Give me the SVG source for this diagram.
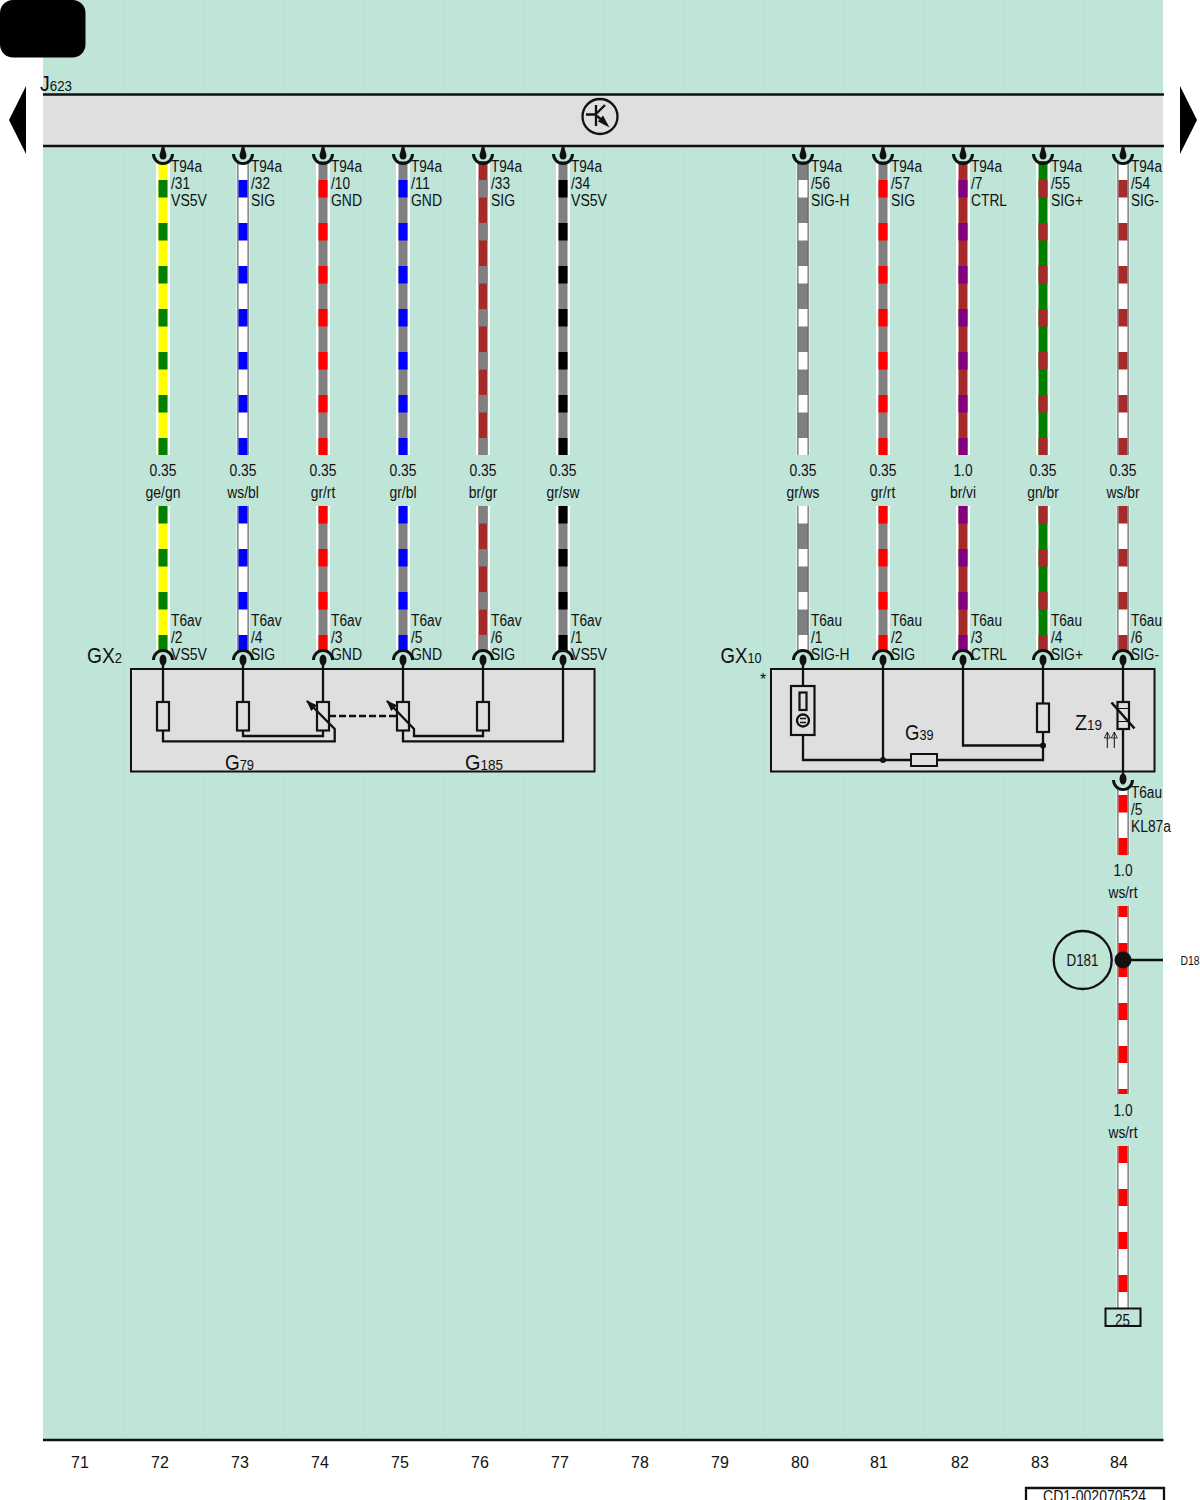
<svg xmlns="http://www.w3.org/2000/svg" width="1200" height="1500" viewBox="0 0 1200 1500">
<style>
text{font-family:"Liberation Sans",Arial,sans-serif;font-size:16px;fill:#111}
.m{text-anchor:middle}
.b{font-size:22px}
.s{font-size:15px}
.t{font-size:12px}
.ln{fill:none;stroke:#111;stroke-width:2.300}
.bx{fill:#dfdfdf;stroke:#111;stroke-width:2}
.rs{fill:none;stroke:#111;stroke-width:2.200}
.thin{fill:none;stroke:#111;stroke-width:1}
.grid{stroke:#b9dfd3;stroke-width:1}
use,.w{fill:none}
.halo{stroke:#fff;stroke-width:14}
.edge{stroke:#666;stroke-width:11.500}
.wh{stroke:#fff;stroke-width:9}
.ye{stroke:#ff0;stroke-width:9}
.gy{stroke:#808080;stroke-width:9}
.br{stroke:#a52a2a;stroke-width:9}
.gn{stroke:#008000;stroke-width:9}
.st{stroke-dasharray:17.5 25.5}
.cgn{stroke:#008000;stroke-width:9}
.cbl{stroke:#00f;stroke-width:9}
.crt{stroke:#f00;stroke-width:9}
.cgy{stroke:#808080;stroke-width:9}
.csw{stroke:#000;stroke-width:9}
.cwh{stroke:#fff;stroke-width:9}
.cvi{stroke:#800080;stroke-width:9}
.cbr{stroke:#a52a2a;stroke-width:9}
.k{fill:#111}
.cup{fill:none;stroke:#111;stroke-width:3}
</style>
<defs>
<path id="base" d="M0 161V455M0 506V652"/>
<path id="stripe" d="M0 180V455M0 506V652"/>
<g id="ct">
<path class="cup" d="M-9.500 154A9.500 9.500 0 0 0 9.500 154"/>
<path class="k" d="M-1 146H1L3.500 155A3.500 4.500 0 0 1 -3.500 155Z"/>
</g>
<g id="cb">
<path class="cup" d="M-9.500 660A9.500 9.500 0 0 1 9.500 660"/>
<ellipse class="k" cx="0" cy="660" rx="3.500" ry="5.500"/>
</g>
<marker id="ah" markerWidth="12" markerHeight="8" refX="10" refY="4" orient="auto" markerUnits="userSpaceOnUse"><path d="M0 0L11 4L0 8Z" fill="#111"/></marker>
<marker id="ua" markerWidth="8" markerHeight="7" refX="7" refY="3" orient="auto" markerUnits="userSpaceOnUse"><path d="M1 0L7 3L1 6Z" fill="none" stroke="#111" stroke-width=".8"/></marker>
</defs>

<rect x="43" y="0" width="1120" height="1440" fill="#bfe4d8"/>
<g id="grid">
<path class="grid" d="M123 0V1440M203 0V1440M283 0V1440M363 0V1440M443 0V1440M523 0V1440M603 0V1440M683 0V1440M763 0V1440M843 0V1440M923 0V1440M1003 0V1440M1083 0V1440"/>
</g>
<rect x="0" y="0" width="85.500" height="57.500" rx="13" fill="#000"/>
<path d="M26 86L9 120L26 154Z" fill="#000"/>
<path d="M1180 86L1197 120L1180 154Z" fill="#000"/>

<g id="J623">
<rect x="43" y="95" width="1120" height="51" fill="#dfdfdf"/>
<path class="ln" d="M43 94.500H1164M43 146H1164"/>
<text x="40" y="91" textLength="32" lengthAdjust="spacingAndGlyphs"><tspan class="b">J</tspan><tspan class="s">623</tspan></text>
<circle class="ln" cx="600" cy="116.500" r="17.500"/>
<path class="ln" d="M586 114.500H596M596 105V126M596 114L605 105M597 116L603 121"/>
<path class="k" d="M609.500 127.500L598 121.500L603 115.500Z"/>
</g>

<g id="connectors">
<g id="wire72"><use href="#base" x="163" class="halo"/><use href="#base" x="163" class="ye"/><use href="#stripe" x="163" class="cgn st"/></g>
<g id="wire73"><use href="#base" x="243" class="halo" style="stroke-width:13"/><use href="#base" x="243" class="edge"/><use href="#base" x="243" class="wh"/><use href="#stripe" x="243" class="cbl st"/></g>
<g id="wire74"><use href="#base" x="323" class="halo"/><use href="#base" x="323" class="gy"/><use href="#stripe" x="323" class="crt st"/></g>
<g id="wire75"><use href="#base" x="403" class="halo"/><use href="#base" x="403" class="gy"/><use href="#stripe" x="403" class="cbl st"/></g>
<g id="wire76"><use href="#base" x="483" class="halo"/><use href="#base" x="483" class="br"/><use href="#stripe" x="483" class="cgy st"/></g>
<g id="wire77"><use href="#base" x="563" class="halo"/><use href="#base" x="563" class="gy"/><use href="#stripe" x="563" class="csw st"/></g>
<g id="wire80"><use href="#base" x="803" class="halo" style="stroke-width:13"/><use href="#base" x="803" class="edge"/><use href="#base" x="803" class="gy"/><use href="#stripe" x="803" class="cwh st"/></g>
<g id="wire81"><use href="#base" x="883" class="halo"/><use href="#base" x="883" class="gy"/><use href="#stripe" x="883" class="crt st"/></g>
<g id="wire82"><use href="#base" x="963" class="halo"/><use href="#base" x="963" class="br"/><use href="#stripe" x="963" class="cvi st"/></g>
<g id="wire83"><use href="#base" x="1043" class="halo"/><use href="#base" x="1043" class="gn"/><use href="#stripe" x="1043" class="cbr st"/></g>
<g id="wire84"><use href="#base" x="1123" class="halo" style="stroke-width:13"/><use href="#base" x="1123" class="edge"/><use href="#base" x="1123" class="wh"/><use href="#stripe" x="1123" class="cbr st"/></g>
<g id="wire84b">
<path class="w halo" style="stroke-width:13" d="M1123 787V855M1123 906V1094M1123 1146V1308"/>
<path class="w edge" d="M1123 787V855M1123 906V1094M1123 1146V1308"/>
<path class="w wh" d="M1123 787V855M1123 906V1094M1123 1146V1308"/>
<path class="w crt" d="M1123 795V812.500M1123 838V855M1123 906V917M1123 943V977M1123 1003V1020M1123 1046V1063M1123 1089V1094M1123 1146V1163M1123 1189V1206M1123 1232V1249M1123 1275V1292"/>
</g>
<path class="ln" d="M1123 960H1163"/>
<g id="top-contacts">
<use href="#ct" x="163"/><use href="#ct" x="243"/><use href="#ct" x="323"/><use href="#ct" x="403"/><use href="#ct" x="483"/><use href="#ct" x="563"/><use href="#ct" x="803"/><use href="#ct" x="883"/><use href="#ct" x="963"/><use href="#ct" x="1043"/><use href="#ct" x="1123"/>
</g>
</g>

<g id="GX2">
<rect class="bx" x="131" y="669" width="463.500" height="102.500"/>
<text x="87" y="663" textLength="35" lengthAdjust="spacingAndGlyphs"><tspan class="b">GX</tspan><tspan class="s">2</tspan></text>
<text x="225" y="770" textLength="29" lengthAdjust="spacingAndGlyphs"><tspan class="b">G</tspan><tspan class="s">79</tspan></text>
<text x="465" y="770" textLength="38" lengthAdjust="spacingAndGlyphs"><tspan class="b">G</tspan><tspan class="s">185</tspan></text>
<rect class="rs" x="157" y="702" width="12" height="28.500"/>
<rect class="rs" x="237" y="702" width="12" height="28.500"/>
<rect class="rs" x="317" y="702" width="12" height="28.500"/>
<rect class="rs" x="397" y="702" width="12" height="28.500"/>
<rect class="rs" x="477" y="702" width="12" height="28.500"/>
<path class="ln" d="M163 660V702M243 660V702M323 660V702M403 660V702M483 660V702M563 660V741.300H403V730.500M163 730.500V741.300H334.700V729L311 705"/>
<path class="ln" d="M243 730.500V736H323V730.500M483 730.500V736H414V729L391 705"/>
<path class="ln" d="M311 705L307 701" marker-end="url(#ah)"/>
<path class="ln" d="M391 705L387 701" marker-end="url(#ah)"/>
<path class="ln" stroke-dasharray="7 3" d="M329 716H397"/>
<use href="#cb" x="163"/><use href="#cb" x="243"/><use href="#cb" x="323"/><use href="#cb" x="403"/><use href="#cb" x="483"/><use href="#cb" x="563"/>
</g>

<g id="GX10">
<rect class="bx" x="771" y="669" width="383.500" height="102.500"/>
<text x="720.500" y="663" textLength="41" lengthAdjust="spacingAndGlyphs"><tspan class="b">GX</tspan><tspan class="s">10</tspan></text>
<text x="760" y="685">*</text>
<text x="905" y="739.500" textLength="28.500" lengthAdjust="spacingAndGlyphs"><tspan class="b">G</tspan><tspan class="s">39</tspan></text>
<text x="1075" y="730" textLength="27" lengthAdjust="spacingAndGlyphs"><tspan class="b">Z</tspan><tspan class="s">19</tspan></text>
<path class="ln" d="M803 660V686M803 735V760H1043V732M883 660V760M963 660V745.500H1043M1043 660V703"/>
<rect class="rs" x="791" y="686" width="23.500" height="49"/>
<rect class="rs" x="799.500" y="692.500" width="7" height="17.500"/>
<circle class="ln" cx="803" cy="720.500" r="6"/>
<path class="ln" d="M800 718.500H806M800 722.500H806" style="stroke-width:1.600"/>
<rect class="bx" x="911" y="754" width="26" height="12"/>
<circle class="k" cx="883" cy="760" r="3"/>
<circle class="k" cx="1043" cy="745.500" r="3"/>
<rect class="rs" x="1037" y="703.500" width="12" height="28.500"/>
<path class="ln" d="M1123 660V702M1123 729V776"/>
<rect class="rs" x="1117.500" y="702" width="11.500" height="27"/>
<path class="thin" d="M1117.500 708.500H1129M1117.500 721.500H1129"/>
<path class="ln" style="stroke-width:2.600" d="M1111.500 702.500L1134.500 728.500"/>
<path class="thin" d="M1107.300 748V732" marker-end="url(#ua)"/>
<path class="thin" d="M1114.300 748V732" marker-end="url(#ua)"/>
<use href="#cb" x="803"/><use href="#cb" x="883"/><use href="#cb" x="963"/><use href="#cb" x="1043"/><use href="#cb" x="1123"/>
<path class="cup" d="M1113.500 780A9.500 9.500 0 0 0 1132.500 780"/>
<ellipse class="k" cx="1123" cy="779" rx="3.500" ry="5.500"/>
</g>

<g id="D181">
<circle class="ln" cx="1082.700" cy="960" r="29"/>
<text x="1066.500" y="966" textLength="32" lengthAdjust="spacingAndGlyphs">D181</text>
<circle class="k" cx="1123" cy="960" r="8.500"/>
<text class="t" x="1180.500" y="965" textLength="19" lengthAdjust="spacingAndGlyphs">D18</text>
</g>

<g id="terminal25">
<rect class="bx" style="fill:#bfe4d8" x="1105.500" y="1308.500" width="35" height="17.500"/>
<text class="m" x="1122.500" y="1325.500" textLength="15" lengthAdjust="spacingAndGlyphs">25</text>
</g>

<g id="pin-labels">
<text x="171" y="172" textLength="31" lengthAdjust="spacingAndGlyphs">T94a</text><text x="171" y="189" textLength="19" lengthAdjust="spacingAndGlyphs">/31</text><text x="171" y="206" textLength="36" lengthAdjust="spacingAndGlyphs">VS5V</text>
<text x="251" y="172" textLength="31" lengthAdjust="spacingAndGlyphs">T94a</text><text x="251" y="189" textLength="19" lengthAdjust="spacingAndGlyphs">/32</text><text x="251" y="206" textLength="24" lengthAdjust="spacingAndGlyphs">SIG</text>
<text x="331" y="172" textLength="31" lengthAdjust="spacingAndGlyphs">T94a</text><text x="331" y="189" textLength="19" lengthAdjust="spacingAndGlyphs">/10</text><text x="331" y="206" textLength="31" lengthAdjust="spacingAndGlyphs">GND</text>
<text x="411" y="172" textLength="31" lengthAdjust="spacingAndGlyphs">T94a</text><text x="411" y="189" textLength="19" lengthAdjust="spacingAndGlyphs">/11</text><text x="411" y="206" textLength="31" lengthAdjust="spacingAndGlyphs">GND</text>
<text x="491" y="172" textLength="31" lengthAdjust="spacingAndGlyphs">T94a</text><text x="491" y="189" textLength="19" lengthAdjust="spacingAndGlyphs">/33</text><text x="491" y="206" textLength="24" lengthAdjust="spacingAndGlyphs">SIG</text>
<text x="571" y="172" textLength="31" lengthAdjust="spacingAndGlyphs">T94a</text><text x="571" y="189" textLength="19" lengthAdjust="spacingAndGlyphs">/34</text><text x="571" y="206" textLength="36" lengthAdjust="spacingAndGlyphs">VS5V</text>
<text x="811" y="172" textLength="31" lengthAdjust="spacingAndGlyphs">T94a</text><text x="811" y="189" textLength="19" lengthAdjust="spacingAndGlyphs">/56</text><text x="811" y="206" textLength="38.500" lengthAdjust="spacingAndGlyphs">SIG-H</text>
<text x="891" y="172" textLength="31" lengthAdjust="spacingAndGlyphs">T94a</text><text x="891" y="189" textLength="19" lengthAdjust="spacingAndGlyphs">/57</text><text x="891" y="206" textLength="24" lengthAdjust="spacingAndGlyphs">SIG</text>
<text x="971" y="172" textLength="31" lengthAdjust="spacingAndGlyphs">T94a</text><text x="971" y="189" textLength="11.500" lengthAdjust="spacingAndGlyphs">/7</text><text x="971" y="206" textLength="36" lengthAdjust="spacingAndGlyphs">CTRL</text>
<text x="1051" y="172" textLength="31" lengthAdjust="spacingAndGlyphs">T94a</text><text x="1051" y="189" textLength="19" lengthAdjust="spacingAndGlyphs">/55</text><text x="1051" y="206" textLength="32" lengthAdjust="spacingAndGlyphs">SIG+</text>
<text x="1131" y="172" textLength="31" lengthAdjust="spacingAndGlyphs">T94a</text><text x="1131" y="189" textLength="19" lengthAdjust="spacingAndGlyphs">/54</text><text x="1131" y="206" textLength="28" lengthAdjust="spacingAndGlyphs">SIG-</text>

<text x="171" y="626" textLength="30.500" lengthAdjust="spacingAndGlyphs">T6av</text><text x="171" y="643" textLength="11.500" lengthAdjust="spacingAndGlyphs">/2</text><text x="171" y="660" textLength="36" lengthAdjust="spacingAndGlyphs">VS5V</text>
<text x="251" y="626" textLength="30.500" lengthAdjust="spacingAndGlyphs">T6av</text><text x="251" y="643" textLength="11.500" lengthAdjust="spacingAndGlyphs">/4</text><text x="251" y="660" textLength="24" lengthAdjust="spacingAndGlyphs">SIG</text>
<text x="331" y="626" textLength="30.500" lengthAdjust="spacingAndGlyphs">T6av</text><text x="331" y="643" textLength="11.500" lengthAdjust="spacingAndGlyphs">/3</text><text x="331" y="660" textLength="31" lengthAdjust="spacingAndGlyphs">GND</text>
<text x="411" y="626" textLength="30.500" lengthAdjust="spacingAndGlyphs">T6av</text><text x="411" y="643" textLength="11.500" lengthAdjust="spacingAndGlyphs">/5</text><text x="411" y="660" textLength="31" lengthAdjust="spacingAndGlyphs">GND</text>
<text x="491" y="626" textLength="30.500" lengthAdjust="spacingAndGlyphs">T6av</text><text x="491" y="643" textLength="11.500" lengthAdjust="spacingAndGlyphs">/6</text><text x="491" y="660" textLength="24" lengthAdjust="spacingAndGlyphs">SIG</text>
<text x="571" y="626" textLength="30.500" lengthAdjust="spacingAndGlyphs">T6av</text><text x="571" y="643" textLength="11.500" lengthAdjust="spacingAndGlyphs">/1</text><text x="571" y="660" textLength="36" lengthAdjust="spacingAndGlyphs">VS5V</text>
<text x="811" y="626" textLength="31" lengthAdjust="spacingAndGlyphs">T6au</text><text x="811" y="643" textLength="11.500" lengthAdjust="spacingAndGlyphs">/1</text><text x="811" y="660" textLength="38.500" lengthAdjust="spacingAndGlyphs">SIG-H</text>
<text x="891" y="626" textLength="31" lengthAdjust="spacingAndGlyphs">T6au</text><text x="891" y="643" textLength="11.500" lengthAdjust="spacingAndGlyphs">/2</text><text x="891" y="660" textLength="24" lengthAdjust="spacingAndGlyphs">SIG</text>
<text x="971" y="626" textLength="31" lengthAdjust="spacingAndGlyphs">T6au</text><text x="971" y="643" textLength="11.500" lengthAdjust="spacingAndGlyphs">/3</text><text x="971" y="660" textLength="36" lengthAdjust="spacingAndGlyphs">CTRL</text>
<text x="1051" y="626" textLength="31" lengthAdjust="spacingAndGlyphs">T6au</text><text x="1051" y="643" textLength="11.500" lengthAdjust="spacingAndGlyphs">/4</text><text x="1051" y="660" textLength="32" lengthAdjust="spacingAndGlyphs">SIG+</text>
<text x="1131" y="626" textLength="31" lengthAdjust="spacingAndGlyphs">T6au</text><text x="1131" y="643" textLength="11.500" lengthAdjust="spacingAndGlyphs">/6</text><text x="1131" y="660" textLength="28" lengthAdjust="spacingAndGlyphs">SIG-</text>
<text x="1131" y="798" textLength="31" lengthAdjust="spacingAndGlyphs">T6au</text><text x="1131" y="815" textLength="11.500" lengthAdjust="spacingAndGlyphs">/5</text><text x="1131" y="832" textLength="40" lengthAdjust="spacingAndGlyphs">KL87a</text>
</g>

<g id="wire-labels">
<text class="m" x="163" y="476" textLength="27" lengthAdjust="spacingAndGlyphs">0.35</text><text class="m" x="163" y="498" textLength="35" lengthAdjust="spacingAndGlyphs">ge/gn</text>
<text class="m" x="243" y="476" textLength="27" lengthAdjust="spacingAndGlyphs">0.35</text><text class="m" x="243" y="498" textLength="31.500" lengthAdjust="spacingAndGlyphs">ws/bl</text>
<text class="m" x="323" y="476" textLength="27" lengthAdjust="spacingAndGlyphs">0.35</text><text class="m" x="323" y="498" textLength="24.500" lengthAdjust="spacingAndGlyphs">gr/rt</text>
<text class="m" x="403" y="476" textLength="27" lengthAdjust="spacingAndGlyphs">0.35</text><text class="m" x="403" y="498" textLength="27" lengthAdjust="spacingAndGlyphs">gr/bl</text>
<text class="m" x="483" y="476" textLength="27" lengthAdjust="spacingAndGlyphs">0.35</text><text class="m" x="483" y="498" textLength="28.500" lengthAdjust="spacingAndGlyphs">br/gr</text>
<text class="m" x="563" y="476" textLength="27" lengthAdjust="spacingAndGlyphs">0.35</text><text class="m" x="563" y="498" textLength="33" lengthAdjust="spacingAndGlyphs">gr/sw</text>
<text class="m" x="803" y="476" textLength="27" lengthAdjust="spacingAndGlyphs">0.35</text><text class="m" x="803" y="498" textLength="33" lengthAdjust="spacingAndGlyphs">gr/ws</text>
<text class="m" x="883" y="476" textLength="27" lengthAdjust="spacingAndGlyphs">0.35</text><text class="m" x="883" y="498" textLength="24.500" lengthAdjust="spacingAndGlyphs">gr/rt</text>
<text class="m" x="963" y="476" textLength="19" lengthAdjust="spacingAndGlyphs">1.0</text><text class="m" x="963" y="498" textLength="26" lengthAdjust="spacingAndGlyphs">br/vi</text>
<text class="m" x="1043" y="476" textLength="27" lengthAdjust="spacingAndGlyphs">0.35</text><text class="m" x="1043" y="498" textLength="31.500" lengthAdjust="spacingAndGlyphs">gn/br</text>
<text class="m" x="1123" y="476" textLength="27" lengthAdjust="spacingAndGlyphs">0.35</text><text class="m" x="1123" y="498" textLength="33" lengthAdjust="spacingAndGlyphs">ws/br</text>
<text class="m" x="1123" y="876" textLength="19" lengthAdjust="spacingAndGlyphs">1.0</text><text class="m" x="1123" y="898" textLength="29" lengthAdjust="spacingAndGlyphs">ws/rt</text>
<text class="m" x="1123" y="1116" textLength="19" lengthAdjust="spacingAndGlyphs">1.0</text><text class="m" x="1123" y="1138" textLength="29" lengthAdjust="spacingAndGlyphs">ws/rt</text>
</g>

<g id="footer">
<path class="ln" d="M43 1440H1163.500"/>
<text class="m" x="80" y="1468">71</text><text class="m" x="160" y="1468">72</text><text class="m" x="240" y="1468">73</text><text class="m" x="320" y="1468">74</text><text class="m" x="400" y="1468">75</text><text class="m" x="480" y="1468">76</text><text class="m" x="560" y="1468">77</text><text class="m" x="640" y="1468">78</text><text class="m" x="720" y="1468">79</text><text class="m" x="800" y="1468">80</text><text class="m" x="879" y="1468">81</text><text class="m" x="960" y="1468">82</text><text class="m" x="1040" y="1468">83</text><text class="m" x="1119" y="1468">84</text>
<path class="ln" d="M1026 1502V1488H1164V1502"/>
<text x="1043" y="1502" textLength="103" lengthAdjust="spacingAndGlyphs">CD1-002070524</text>
</g>
</svg>
